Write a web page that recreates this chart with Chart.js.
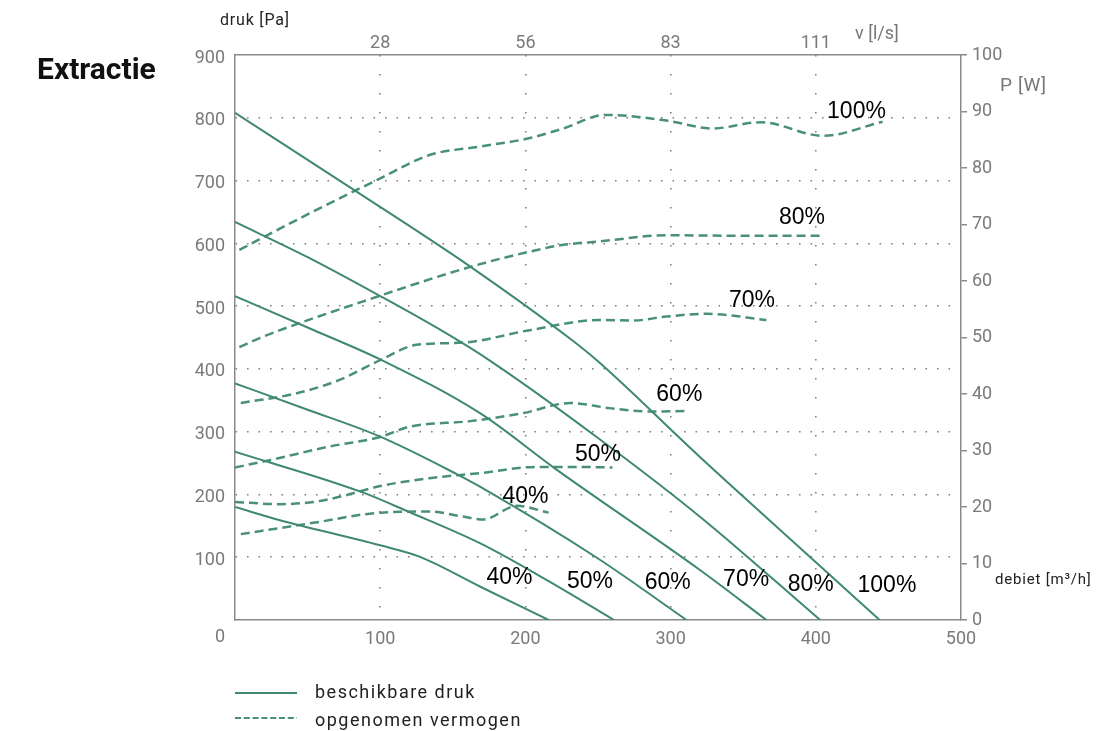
<!DOCTYPE html>
<html><head><meta charset="utf-8">
<script src="https://cdn.jsdelivr.net/npm/chart.js@4"></script>
<style>
html,body{margin:0;padding:0;background:#fff;}
#wrap{position:relative;width:1097px;height:731px;overflow:hidden;}
canvas{position:absolute;left:0;top:0;}
.t{position:absolute;white-space:nowrap;font-family:Roboto,"Noto Sans",sans-serif;line-height:1;}
</style></head><body>
<div id="wrap">
<canvas id="c" width="1097" height="731"></canvas>
<div class="t" style="left:37px;top:54px;font-size:30px;font-weight:700;color:#111;">Extractie</div>
<div class="t" style="left:220px;top:12px;font-size:16px;color:#222;letter-spacing:0.8px;">druk [Pa]</div>
<div class="t" style="left:855px;top:24px;font-size:18px;color:#777;">v [l/s]</div>
<div class="t" style="left:1000px;top:75px;font-size:19px;color:#777;letter-spacing:0.6px;">P [W]</div>
<div class="t" style="left:995px;top:572px;font-size:15px;color:#222;letter-spacing:0.8px;">debiet [m³/h]</div>
<div class="t" style="left:315px;top:683px;font-size:18px;color:#222;letter-spacing:1.5px;">beschikbare druk</div>
<div class="t" style="left:315px;top:711px;font-size:18px;color:#222;letter-spacing:1.5px;">opgenomen vermogen</div>
</div>
<script>
// ---- data: beschikbare druk [Pa] vs debiet [m3/h]
const drukX100 = [0,84,162,232,249,320,401,444];
const drukY100 = [808,682,563,446,414,260,90,0];
const drukX80 = [0,50,100,143,175,250,320,403];
const drukY80 = [634,578,516,460,414,290,165,0];
const drukX70 = [0,54,101,169,220,320,366];
const drukY70 = [516,462,414,329,242,80,0];
const drukX60 = [0,50,100,153,169,250,311];
const drukY60 = [377,335,292,232,212,98,0];
const drukX50 = [0,87,120,169,216,261];
const drukY50 = [268,204,172,122,62,0];
const drukX40 = [0,31,100,127,169,216];
const drukY40 = [180,159,119,101,53,0];
// ---- data: opgenomen vermogen [W] vs debiet [m3/h]
const vermX100 = [3,47,98,134,169,203,226,255,297,329,362,405,446];
const vermY100 = [65.5,71.4,77.9,82.3,83.8,85.3,87,89.4,88.4,87,88.1,85.7,88.2];
const vermX80 = [3,17,100,162,203,226,251,297,350,403];
const vermY80 = [48.3,49.9,57.4,62.5,65.2,66.4,67,68.1,68,68];
const vermX70 = [4,42,72,100,125,157,203,251,274,297,325,366];
const vermY70 = [38.4,40.1,42.5,46,48.7,49.1,51.3,53.1,53,53.7,54.2,53.1];
const vermX60 = [0,24,65,100,120,162,198,231,258,286,311];
const vermY60 = [27,28.3,30.7,32.4,34.2,35.2,36.6,38.4,37.5,36.9,37];
const vermX50 = [0,31,54,72,100,134,169,208,230,260];
const vermY50 = [20.9,20.5,20.9,21.8,23.7,25.1,26,27.1,27.1,27];
const vermX40 = [4,54,100,134,157,171,194,216];
const vermY40 = [15.2,17.2,19,19.2,18.3,17.8,20.2,19];
// ---- tick labels
const topTickValues = [100,200,300,400];
const topTickLabels = ['28','56','83','111'];
// ---- curve labels (data coordinates)
const drukLabelText = ['40%','50%','60%','70%','80%','100%'];
const drukLabelX = [189,244.5,298,352,396.5,449];
const drukLabelY = [67,60.5,59,64,57,55.5];
const vermLabelText = ['40%','50%','60%','70%','80%','100%'];
const vermLabelX = [200,250,306,356,390.5,428];
const vermLabelY = [21.9,29.2,39.8,56.6,71.2,89.9];

const GREEN = '#3f8872';
const GREEN_D = '#4a8f7a';
const GRID = '#808080';
const AXIS = '#8a8a8a';
const TICK = '#7a7a7a';
const tickFont = {family:'Roboto', size:18};

function pts(xs, ys){ return xs.map((v,i)=>({x:v,y:ys[i]})); }
const solid = (d)=>({data:d, yAxisID:'y', xAxisID:'x', borderColor:GREEN, borderWidth:2, pointRadius:0, cubicInterpolationMode:'monotone', fill:false});
const dashed = (d)=>({data:d, yAxisID:'y2', xAxisID:'x', borderColor:GREEN_D, borderWidth:2.5, borderDash:[9,5], pointRadius:0, cubicInterpolationMode:'monotone', fill:false});

const datasets = [
  solid(pts(drukX100,drukY100)), solid(pts(drukX80,drukY80)), solid(pts(drukX70,drukY70)),
  solid(pts(drukX60,drukY60)), solid(pts(drukX50,drukY50)), solid(pts(drukX40,drukY40)),
  dashed(pts(vermX100,vermY100)), dashed(pts(vermX80,vermY80)), dashed(pts(vermX70,vermY70)),
  dashed(pts(vermX60,vermY60)), dashed(pts(vermX50,vermY50)), dashed(pts(vermX40,vermY40))
];

const extras = {
  id:'extras',
  afterDatasetsDraw(chart){
    const {ctx, scales:{x,y,y2}} = chart;
    ctx.save();
    ctx.font = '23px "Liberation Sans", Arial, sans-serif';
    ctx.fillStyle = '#000';
    ctx.textAlign = 'center'; ctx.textBaseline = 'middle';
    drukLabelText.forEach((t,i)=>ctx.fillText(t, x.getPixelForValue(drukLabelX[i]), y.getPixelForValue(drukLabelY[i])));
    vermLabelText.forEach((t,i)=>ctx.fillText(t, x.getPixelForValue(vermLabelX[i]), y2.getPixelForValue(vermLabelY[i])));
    // shared zero label
    ctx.font = '18px Roboto'; ctx.fillStyle = TICK; ctx.textAlign = 'right';
    ctx.fillText('0', x.left - 10, y.bottom + 17);
    // legend samples
    ctx.strokeStyle = GREEN; ctx.lineWidth = 2;
    ctx.beginPath(); ctx.moveTo(235,693); ctx.lineTo(297,693); ctx.stroke();
    ctx.strokeStyle = GREEN_D; ctx.setLineDash([6,2.8]);
    ctx.beginPath(); ctx.moveTo(235,718); ctx.lineTo(297,718); ctx.stroke();
    ctx.restore();
  }
};

new Chart(document.getElementById('c'), {
  type:'line',
  data:{datasets},
  plugins:[extras],
  options:{
    responsive:false, animation:false, devicePixelRatio:1,
    layout:{padding:0},
    plugins:{legend:{display:false}, tooltip:{enabled:false}},
    scales:{
      x:{type:'linear', position:'bottom', min:0, max:500,
        afterFit(s){ s.height = 111; },
        ticks:{stepSize:100, color:TICK, font:tickFont, padding:9, callback:(v)=> v===0 ? '' : v},
        grid:{drawTicks:false, lineWidth:1.6, color:(c)=> (c.tick && (c.tick.value===0||c.tick.value===500)) ? 'rgba(0,0,0,0)' : GRID},
        border:{color:AXIS, width:1.5, dash:[1.6,17.4]}},
      x2:{type:'linear', position:'top', min:0, max:500,
        afterFit(s){ s.height = 55; },
        ticks:{stepSize:100, color:TICK, font:tickFont, padding:1, callback:(v)=>{const i=topTickValues.indexOf(v); return i>=0?topTickLabels[i]:'';}},
        grid:{display:false, drawTicks:false},
        border:{display:true, color:AXIS, width:1.5}},
      y:{type:'linear', position:'left', min:0, max:900,
        afterFit(s){ s.width = 235; },
        ticks:{stepSize:100, color:TICK, font:tickFont, padding:10, labelOffset:3, callback:(v)=> v===0 ? '' : v},
        grid:{drawTicks:false, lineWidth:1.6, color:(c)=> (c.tick && (c.tick.value===0||c.tick.value===900)) ? 'rgba(0,0,0,0)' : GRID},
        border:{color:AXIS, width:1.5, dash:[1.6,9.9]}},
      y2:{type:'linear', position:'right', min:0, max:100,
        afterFit(s){ s.width = 136; },
        ticks:{stepSize:10, color:TICK, font:tickFont, padding:5},
        grid:{drawOnChartArea:false, drawTicks:true, tickLength:6, color:AXIS, lineWidth:1.5},
        border:{color:AXIS, width:1.5}}
    }
  }
});
</script>
</body></html>
